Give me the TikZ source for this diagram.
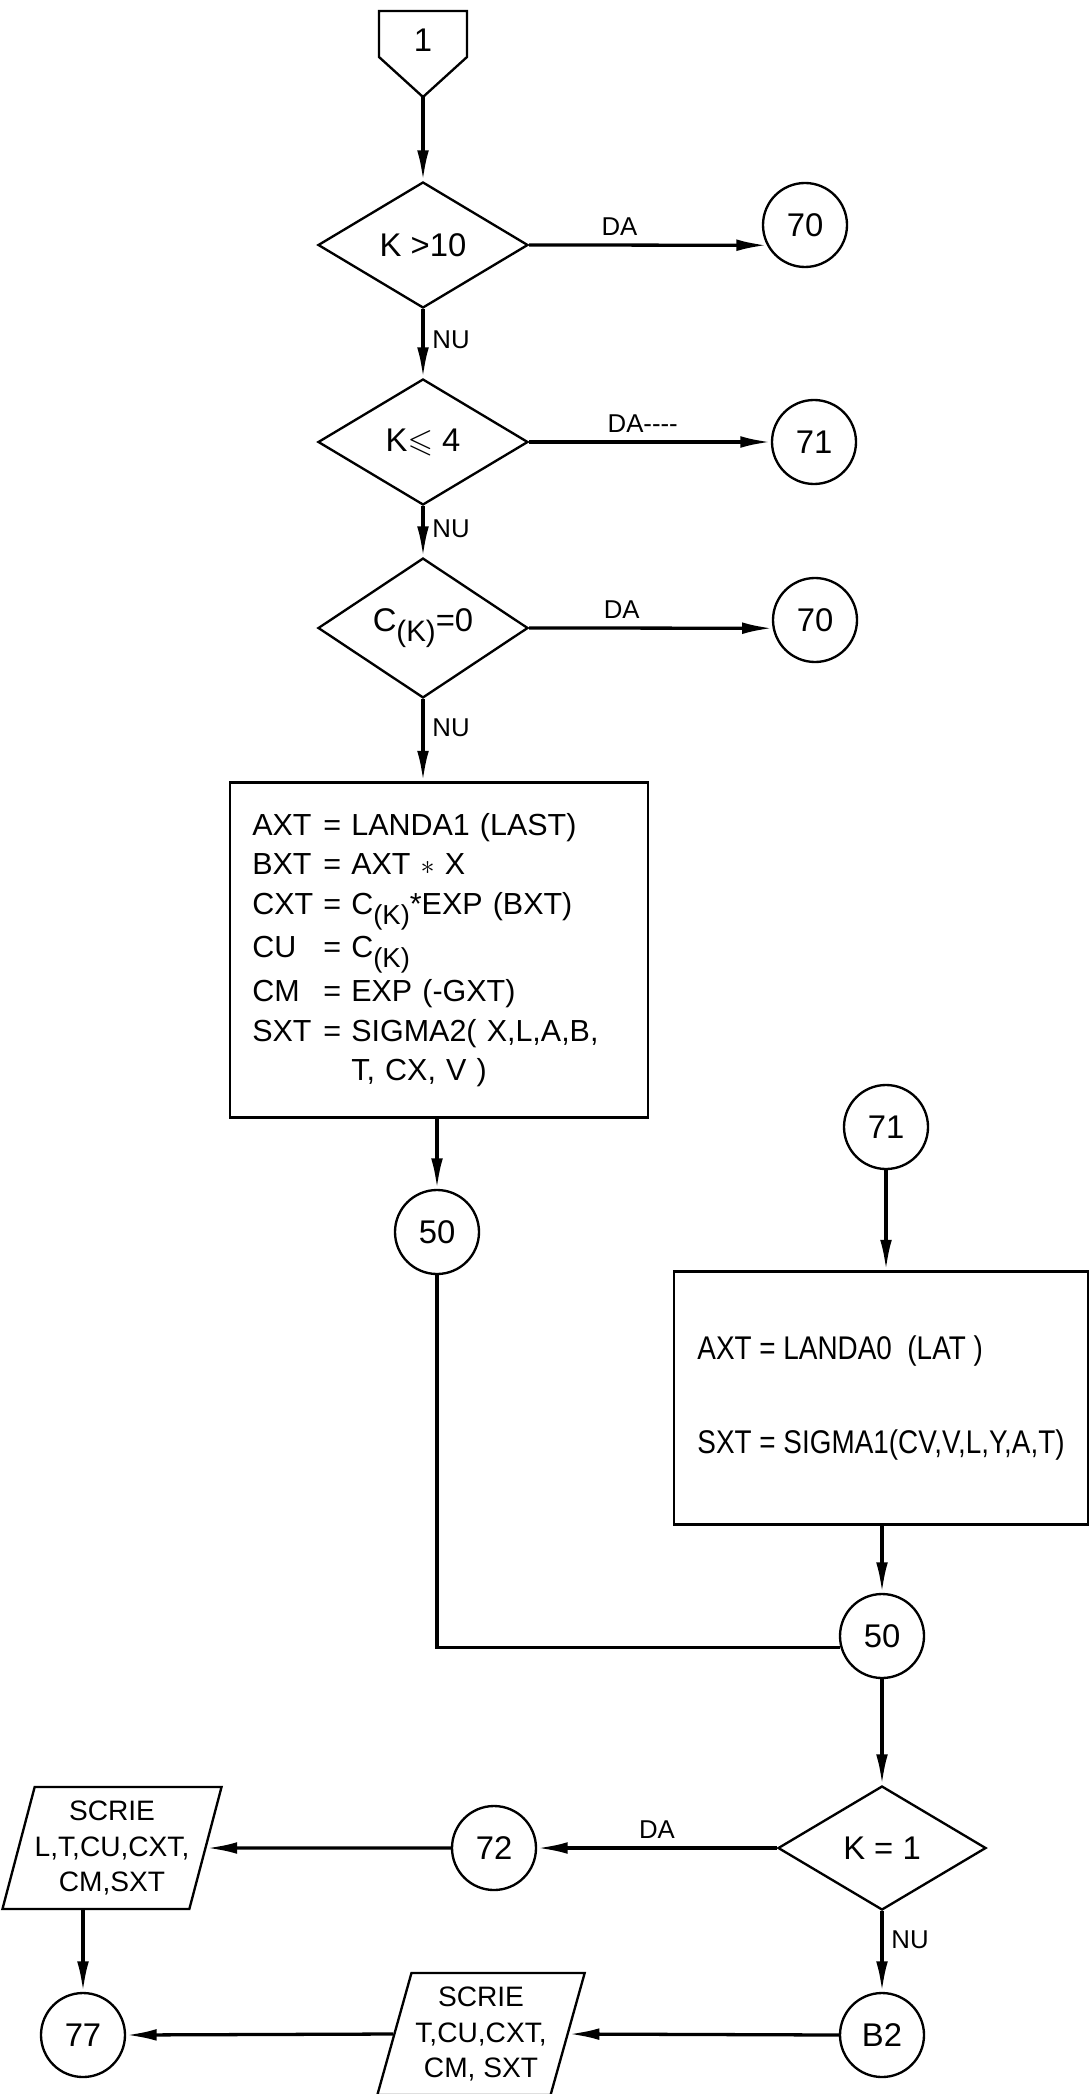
\documentclass[tikz,border=0pt]{standalone}
\usepackage{fontspec}
\setmainfont{Liberation Sans}
\newfontfamily\narrowsans{Liberation Sans}[FakeStretch=0.85]
\usepackage{amssymb}
\usetikzlibrary{arrows.meta,shapes.geometric}
\newcommand{\lowk}{\raisebox{-0.6ex}{\scalebox{0.9}{(K)}}}
\tikzset{
    edgeline/.style={draw,line width=1pt},
    flowline/.style={line width=1.4pt},
    flowarrow/.style={->,line width=1.4pt},
    decision/.style={diamond,edgeline,minimum width=3.15cm,minimum height=1.89cm,inner sep=0pt,font=\fontsize{14}{16}\selectfont},
    connector/.style={circle,edgeline,minimum size=1.26cm,inner sep=0pt,font=\fontsize{14}{16}\selectfont},
    process/.style={rectangle,edgeline,inner xsep=0.33cm,align=left},
    inout/.style={trapezium,trapezium left angle=71,trapezium right angle=109,trapezium stretches=true,edgeline,minimum width=3.13cm,minimum height=1.83cm,inner sep=0pt,align=center,font=\fontsize{12}{15}\selectfont},
    branchlabel/.style={font=\fontsize{11}{13}\selectfont}
}

\begin{document}
\begin{tikzpicture}[x=0.015cm,y=-0.015cm,>={Latex[length=13pt,width=5pt]}]
    \useasboundingbox (0,0) rectangle (1090,2094);
    % Entry connector
    \node[font=\fontsize{14}{16}\selectfont] (start) at (423,40) {1};
    \draw[edgeline] (379,11) -- (467,11) -- (467,57) -- (423,97) -- (379,57) -- cycle;
    \coordinate (starttip) at (423,97);
    % K > 10
    \node[decision] (test1) at (423,245) {K >10};
    \node[connector] (go70a) at (805,225) {70};
    \draw[flowarrow] (starttip) -- (test1.north);
    \draw[flowarrow] (test1.east) -- node[branchlabel,above,pos=0.38] {DA} (go70a.208);
    % K <= 4
    \node[decision] (test2) at (423,442) {K$\leqslant$ 4};
    \node[connector] (go71a) at (814,442) {71};
    \draw[flowarrow] (test1.south) -- node[branchlabel,right,pos=0.45] {NU} (test2.north);
    \draw[flowarrow] (test2.east) -- node[branchlabel,above,pos=0.47] {DA-{}-{}-{}-} (go71a.west);
    % C(K) = 0
    \node[decision] (test3) at (423,628) {C\lowk=0};
    \node[connector] (go70b) at (815,620) {70};
    \draw[flowarrow] (test2.south) -- node[branchlabel,right,pos=0.45] {NU} (test3.north);
    \draw[flowarrow] (test3.east) -- node[branchlabel,above,pos=0.38] {DA} (go70b.191);
    % Calculation, K > 4
    \node[process,text width=5.6cm,minimum height=5.025cm,font=\fontsize{13}{17}\selectfont] (calc1) at (439,950) {%
        \begin{tabular}{@{}l@{\ }c@{\ }l@{}}
        AXT & = & LANDA1 (LAST)\\
        BXT & = & AXT $\ast$ X\\
        CXT & = & C\lowk*EXP (BXT)\\
        CU & = & C\lowk\\
        CM & = & EXP (-GXT)\\
        SXT & = & SIGMA2( X,L,A,B,\\
            &   & T, CX, V )
        \end{tabular}};
    \draw[flowarrow] (test3.south) -- node[branchlabel,right,pos=0.35] {NU} (test3.south |- calc1.north);
    \node[connector] (go50a) at (437,1232) {50};
    \draw[flowarrow] (calc1.south -| go50a.north) -- (go50a.north);
    % Calculation, K <= 4
    \node[connector] (go71b) at (886,1127) {71};
    \node[process,inner xsep=0.3cm,minimum width=6.21cm,minimum height=3.795cm,font=\narrowsans\fontsize{14}{40}\selectfont] (calc0) at (881,1398) {AXT = LANDA0~~(LAT~)\\SXT = SIGMA1(CV,V,L,Y,A,T)};
    \draw[flowarrow] (go71b.south) -- (go71b.south |- calc0.north);
    \node[connector] (go50b) at (882,1636) {50};
    \draw[flowarrow] (calc0.south -| go50b.north) -- (go50b.north);
    \draw[flowline] (go50a.south) |- (go50b.195);
    % K = 1
    \node[decision,minimum width=3.12cm,minimum height=1.86cm] (test4) at (882,1848) {K = 1};
    \draw[flowarrow] (go50b.south) -- (test4.north);
    \node[connector] (go72) at (494,1848) {72};
    \draw[flowarrow] (test4.west) -- node[branchlabel,above] {DA} (go72.east);
    \node[inout] (write1) at (112,1848) {SCRIE\\L,T,CU,CXT,\\CM,SXT};
    \draw[flowarrow] (go72.west) -- (write1.east);
    \node[connector] (go77) at (83,2035) {77};
    \draw[flowarrow] (go77.north |- write1.south) -- (go77.north);
    \node[connector] (goB2) at (882,2035) {B2};
    \draw[flowarrow] (test4.south) -- node[branchlabel,right,pos=0.35] {NU} (goB2.north);
    \node[inout] (write2) at (481,2034) {SCRIE\\T,CU,CXT,\\CM, SXT};
    \draw[flowarrow] (goB2.west) -- (write2.east);
    \draw[flowarrow] (write2.west) -- (go77.east);
\end{tikzpicture}
\end{document}
